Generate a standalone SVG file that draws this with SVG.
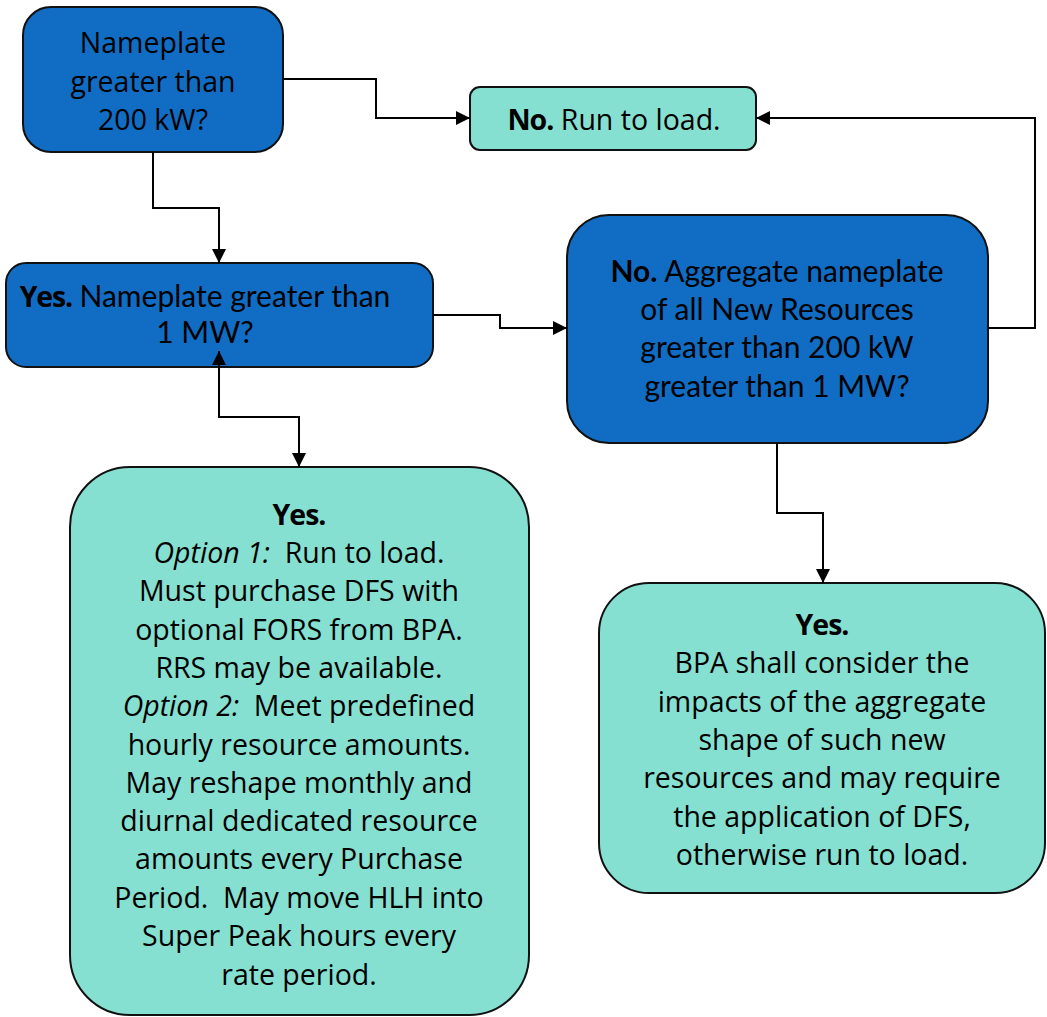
<svg xmlns="http://www.w3.org/2000/svg" width="1047" height="1017" viewBox="0 0 1047 1017">
<style>
.blue{fill:#116DC4;stroke:#111;stroke-width:2}
.teal{fill:#86E0D1;stroke:#111;stroke-width:2}
.fr{font-family:"Open Sans","Liberation Sans",sans-serif;font-size:28.5px;fill:#000;text-anchor:middle;white-space:pre}
.ca{font-family:Lato,"Liberation Sans",sans-serif;font-size:30px;fill:#000;text-anchor:middle;white-space:pre}
.b{font-weight:700}
.i{font-style:italic}
.conn{fill:none;stroke:#000;stroke-width:2}
</style>
<defs>
<marker id="arr" markerUnits="userSpaceOnUse" markerWidth="14" markerHeight="14" viewBox="0 0 14 14" refX="14" refY="7" orient="auto-start-reverse">
<path d="M0,0 L14,7 L0,14 z" fill="#000"/>
</marker>
</defs>
<g id="n1">
<rect class="blue" x="23" y="7" width="260" height="145" rx="28"/>
<text class="fr" x="153" y="53">Nameplate</text>
<text class="fr" x="153" y="92">greater than</text>
<text class="fr" x="153" y="130">200 kW?</text>
</g>
<g id="n2">
<rect class="teal" x="470" y="87" width="286" height="63" rx="10"/>
<text class="fr" x="614" y="130"><tspan class="b" letter-spacing="-1">No.</tspan> Run to load.</text>
</g>
<g id="n3">
<rect class="blue" x="6" y="263" width="427" height="104" rx="20"/>
<text class="ca" x="205" y="307" font-size="29"><tspan class="fr b" font-size="27" letter-spacing="-1.2">Yes.</tspan> Nameplate greater than</text>
<text class="ca" x="205" y="343" font-size="29">1 MW?</text>
</g>
<g id="n4">
<rect class="blue" x="567" y="215" width="421" height="228" rx="42"/>
<text class="ca" x="777" y="282"><tspan class="b">No.</tspan> Aggregate nameplate</text>
<text class="ca" x="777" y="320">of all New Resources</text>
<text class="ca" x="777" y="358">greater than 200 kW</text>
<text class="ca" x="777" y="397">greater than 1 MW?</text>
</g>
<g id="n5">
<rect class="teal" x="70" y="467" width="459" height="548" rx="60"/>
<text class="fr b" x="299" y="525" letter-spacing="-1">Yes.</text>
<text class="fr" x="299" y="563"><tspan class="i">Option 1:</tspan>  Run to load.</text>
<text class="fr" x="299" y="601">Must purchase DFS with</text>
<text class="fr" x="299" y="640">optional FORS from BPA.</text>
<text class="fr" x="299" y="678">RRS may be available.</text>
<text class="fr" x="299" y="716"><tspan class="i">Option 2:</tspan>  Meet predefined</text>
<text class="fr" x="299" y="755">hourly resource amounts.</text>
<text class="fr" x="299" y="793">May reshape monthly and</text>
<text class="fr" x="299" y="831">diurnal dedicated resource</text>
<text class="fr" x="299" y="869">amounts every Purchase</text>
<text class="fr" x="299" y="908">Period.  May move HLH into</text>
<text class="fr" x="299" y="946">Super Peak hours every</text>
<text class="fr" x="299" y="985">rate period.</text>
</g>
<g id="n6">
<rect class="teal" x="599" y="583" width="446" height="310" rx="50"/>
<text class="fr b" x="822" y="635" letter-spacing="-1">Yes.</text>
<text class="fr" x="822" y="673">BPA shall consider the</text>
<text class="fr" x="822" y="712">impacts of the aggregate</text>
<text class="fr" x="822" y="750">shape of such new</text>
<text class="fr" x="822" y="788">resources and may require</text>
<text class="fr" x="822" y="827">the application of DFS,</text>
<text class="fr" x="822" y="865">otherwise run to load.</text>
</g>
<g id="connectors">
<path class="conn" d="M283,79 H376 V118 H470" marker-end="url(#arr)"/>
<path class="conn" d="M153,152 V208 H219 V263" marker-end="url(#arr)"/>
<path class="conn" d="M433,315 H500 V328 H567" marker-end="url(#arr)"/>
<path class="conn" d="M988,328 H1035 V118 H756" marker-end="url(#arr)"/>
<path class="conn" d="M219,351 V417 H299 V467" marker-start="url(#arr)" marker-end="url(#arr)"/>
<path class="conn" d="M777,443 V513 H823 V583" marker-end="url(#arr)"/>
</g>
</svg>
